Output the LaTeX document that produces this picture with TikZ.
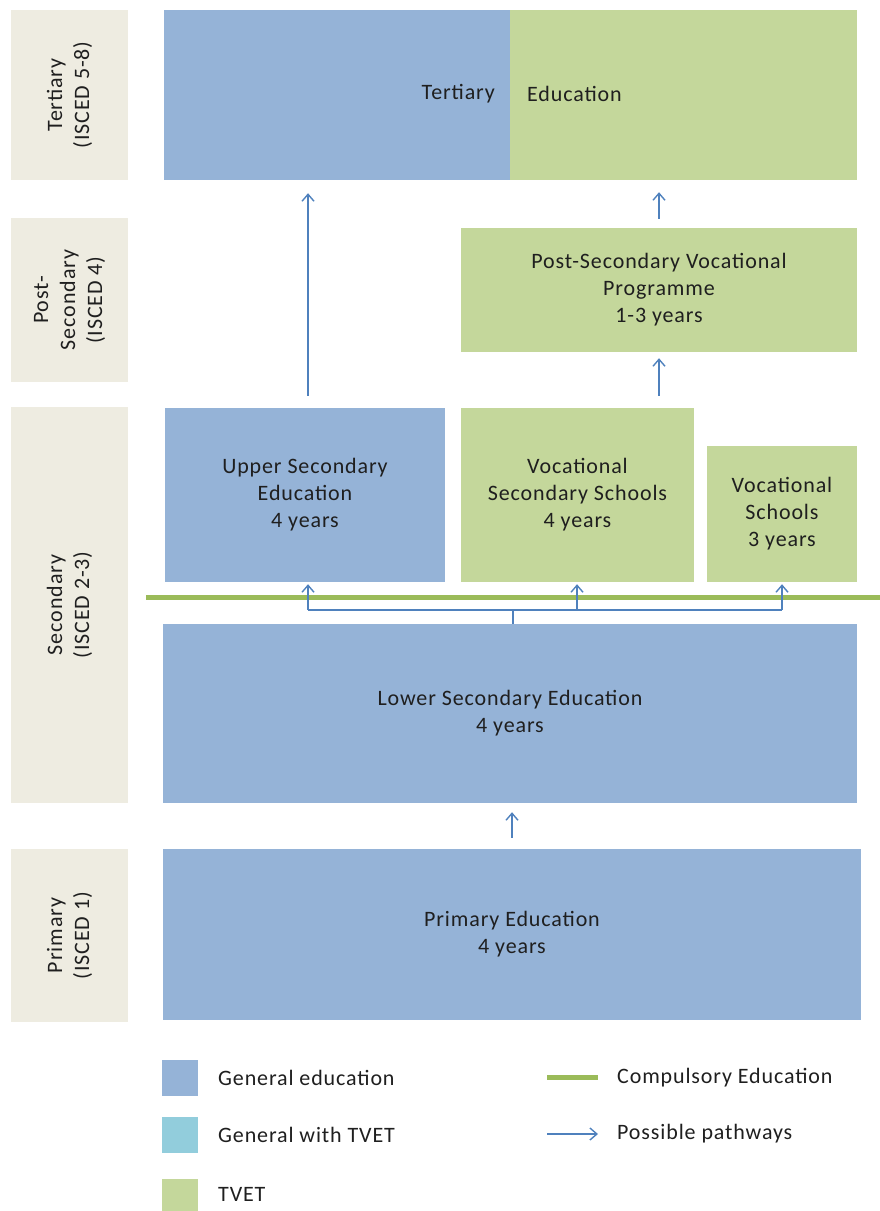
\documentclass[tikz,border=0pt]{standalone}
\usepackage{fontspec}
\setmainfont{Carlito}[LetterSpace=4]
\usetikzlibrary{arrows.meta}
\definecolor{gblue}{HTML}{95B3D7}
\definecolor{tgreen}{HTML}{C4D79B}
\definecolor{lbg}{HTML}{EEECE1}
\definecolor{teal}{HTML}{92CDDC}
\definecolor{cline}{HTML}{9BBB59}
\definecolor{parrow}{HTML}{4F81BD}
\begin{document}
\begin{tikzpicture}[x=1pt,y=-1pt,
  font=\fontsize{22}{27}\selectfont,
  box/.style={draw=none, inner sep=0pt, align=center, text=black!88},
  gen/.style={box, fill=gblue},
  tvet/.style={box, fill=tgreen},
  lvl/.style={box, fill=lbg},
  rot/.style={rotate=90, align=center, inner sep=0pt, text=black!88},
  pw/.style={draw=parrow, line width=1.4pt},
  arr/.style={pw, -{Straight Barb[length=7pt,width=12pt,line width=1.4pt]}},
  legtxt/.style={anchor=west, inner sep=0pt, text=black!88}]
\useasboundingbox (0,0) rectangle (880,1211);
% level column
\node[lvl, minimum width=117, minimum height=170] (l1) at (69.5,95) {};
\node[rot] at (l1.center) {Tertiary\\(ISCED 5-8)};
\node[lvl, minimum width=117, minimum height=164] (l2) at (69.5,300) {};
\node[rot] at (l2.center) {Post-\\Secondary\\(ISCED 4)};
\node[lvl, minimum width=117, minimum height=396] (l3) at (69.5,605) {};
\node[rot] at (l3.center) {Secondary\\(ISCED 2-3)};
\node[lvl, minimum width=117, minimum height=173] (l4) at (69.5,935.5) {};
\node[rot] at (l4.center) {Primary\\(ISCED 1)};
% tertiary
\node[gen, minimum width=346, minimum height=170] (ter1) at (337,95) {};
\node[tvet, minimum width=347, minimum height=170] (ter2) at (683.5,95) {};
\node[anchor=east, inner sep=0pt, text=black!88] at (495,94) {Tertiary};
\node[anchor=west, inner sep=0pt, text=black!88] at (527,94) {Education};
% post-secondary
\node[tvet, minimum width=396, minimum height=124] (psv) at (659,290) {Post-Secondary Vocational\\Programme\\1-3 years};
% upper secondary
\node[gen, minimum width=280, minimum height=174] (up) at (305,495) {Upper Secondary\\Education\\4 years};
\node[tvet, minimum width=233, minimum height=174] (vs) at (577.5,495) {Vocational\\Secondary Schools\\4 years};
\node[tvet, minimum width=150, minimum height=136] (vsch) at (782,514) {Vocational\\Schools\\3 years};
% compulsory line
\draw[cline, line width=5pt] (146,597) -- (880,597);
% lower secondary
\node[gen, minimum width=694, minimum height=179] (low) at (510,713.5) {Lower Secondary Education\\4 years};
% primary
\node[gen, minimum width=698, minimum height=171] (prim) at (512,934.5) {Primary Education\\4 years};
% pathways
\draw[arr] ([yshift=11]prim.north) -- ([yshift=-9]low.south -| prim.north);
\coordinate (br) at ([xshift=3,yshift=14]low.north);
\coordinate (a1) at ([xshift=3]up.south);
\coordinate (a2) at ([xshift=-0.5]vs.south);
\coordinate (a3) at (vsch.south);
\draw[pw] ([xshift=3]low.north) -- (br);
\draw[pw] (br -| a1) -- (br -| a3);
\draw[arr] (br -| a1) -- ([yshift=-2]a1);
\draw[arr] (br -| a2) -- ([yshift=-2]a2);
\draw[arr] (br -| a3) -- ([yshift=-2]a3);
\draw[arr] ([xshift=3,yshift=12]up.north) -- ([yshift=-13]ter1.south -| a1);
\draw[arr] ([yshift=12]vs.north -| psv.south) -- ([yshift=-6]psv.south);
\draw[arr] ([yshift=9]psv.north) -- ([yshift=-12]ter2.south -| psv.north);
% legend
\node[box, fill=gblue, minimum size=36] (lg1) at (180,1078) {};
\node[legtxt] at (218,1078) {General education};
\node[box, fill=teal, minimum size=36] (lg2) at (180,1135) {};
\node[legtxt] at (218,1135) {General with TVET};
\node[box, fill=tgreen, minimum size=36] (lg3) at (180,1197) {};
\node[legtxt] at (218,1194) {TVET};
\coordinate (c1) at (547,1077);
\coordinate (c2) at (598,1077);
\draw[cline, line width=5pt] (c1) -- (c2);
\node[legtxt] at (617,1078) {Compulsory Education};
\coordinate (p1) at (547,1134);
\coordinate (p2) at (598,1134);
\draw[pw, -{Straight Barb[length=7pt,width=12pt,line width=1.4pt]}] (p1) -- (p2);
\node[legtxt] at (617,1134) {Possible pathways};
\end{tikzpicture}
\end{document}
